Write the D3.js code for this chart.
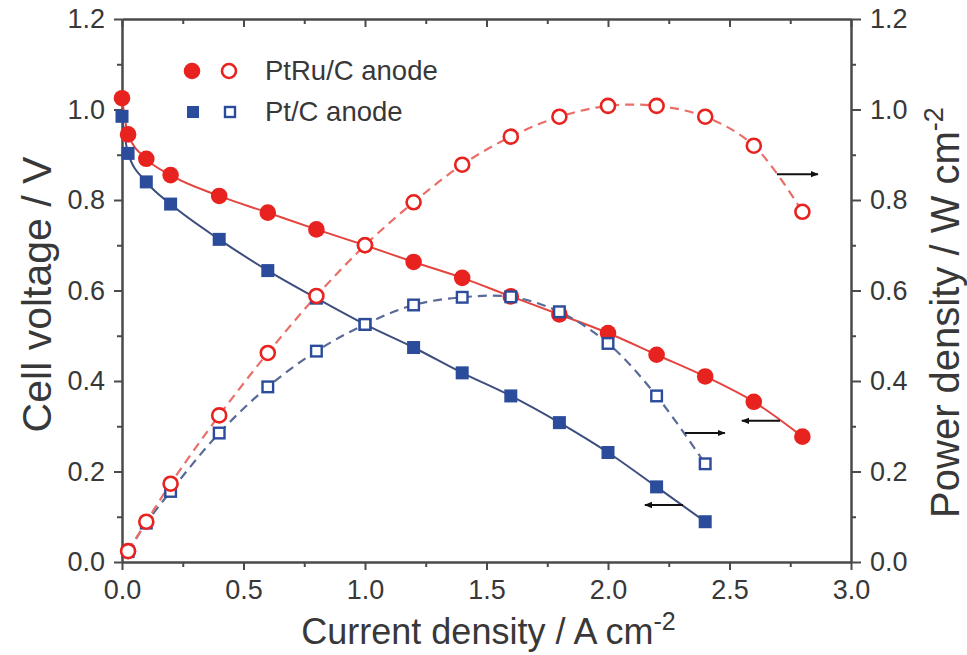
<!DOCTYPE html>
<html>
<head>
<meta charset="utf-8">
<script src="https://cdn.jsdelivr.net/npm/d3@7"></script>
<style>
  html, body { margin: 0; padding: 0; background: #fff; }
  svg { display: block; }
  text { font-family: "Liberation Sans", Arial, Helvetica, sans-serif; fill: #383838; }
</style>
</head>
<body>
<svg id="chart" width="967" height="655"></svg>
<script>
// ---------------- data ----------------
const ptruCurrentV = [0, 0.025, 0.1, 0.2, 0.4, 0.6, 0.8, 1.0, 1.2, 1.4, 1.6, 1.8, 2.0, 2.2, 2.4, 2.6, 2.8];
const ptruVoltage  = [1.025, 0.945, 0.891, 0.855, 0.809, 0.772, 0.735, 0.700, 0.663, 0.628, 0.587, 0.547, 0.506, 0.458, 0.410, 0.354, 0.277];
const ptruCurrentP = [0.025, 0.1, 0.2, 0.4, 0.6, 0.8, 1.0, 1.2, 1.4, 1.6, 1.8, 2.0, 2.2, 2.4, 2.6, 2.8];
const ptruPower    = [0.024, 0.089, 0.173, 0.324, 0.462, 0.588, 0.700, 0.795, 0.878, 0.940, 0.984, 1.008, 1.008, 0.984, 0.920, 0.774];

const ptCurrentV = [0, 0.025, 0.1, 0.2, 0.4, 0.6, 0.8, 1.0, 1.2, 1.4, 1.6, 1.8, 2.0, 2.2, 2.4];
const ptVoltage  = [0.985, 0.903, 0.840, 0.791, 0.713, 0.644, 0.583, 0.525, 0.474, 0.418, 0.367, 0.308, 0.242, 0.166, 0.089];
const ptCurrentP = [0.025, 0.1, 0.2, 0.4, 0.6, 0.8, 1.0, 1.2, 1.4, 1.6, 1.8, 2.0, 2.2, 2.4];
const ptPower    = [0.023, 0.086, 0.156, 0.285, 0.387, 0.466, 0.525, 0.568, 0.585, 0.586, 0.553, 0.483, 0.367, 0.217];

const xTicks = [0, 0.5, 1.0, 1.5, 2.0, 2.5, 3.0];
const xMinorTicks = [0.25, 0.75, 1.25, 1.75, 2.25, 2.75];
const yTicks = [0, 0.2, 0.4, 0.6, 0.8, 1.0, 1.2];
const yMinorTicks = [0.1, 0.3, 0.5, 0.7, 0.9, 1.1];

const legendLabels = ["PtRu/C anode", "Pt/C anode"];
// annotation arrows in data units (arrow points from start to end at the given level)
const arrowStarts = [2.695, 2.317, 2.708, 2.309];
const arrowEnds   = [2.864, 2.481, 2.551, 2.152];
const arrowLevels = [0.857, 0.285, 0.312, 0.126];

// ---------------- layout ----------------
const PL = 122, PR = 851, PT = 19, PB = 562;
const RED = "#e8231f", RED_LINE = "#e4443f", RED_DASH = "#ea6e68";
const BLUE = "#2b4b9b", BLUE_LINE = "#3d4e7e", BLUE_DASH = "#5a6a96";
const AXIS = "#4a4a4a";

const svg = d3.select("#chart");
const x = d3.scaleLinear().domain([0, 3]).range([PL, PR]);
const yL = d3.scaleLinear().domain([0, 1.2]).range([PB, PT]);
const yR = d3.scaleLinear().domain([0, 1.2]).range([PB, PT]);

const fmt = d3.format(".1f");

function styleAxis(g) {
  g.selectAll(".domain").attr("stroke", AXIS).attr("stroke-width", 2.5);
  g.selectAll(".tick line").attr("stroke", AXIS).attr("stroke-width", 2);
  g.selectAll(".tick text").attr("font-size", 27).attr("fill", "#383838")
    .style("font-family", '"Liberation Sans", Arial, sans-serif');
}
function minor(g) {
  g.select(".domain").remove();
  g.selectAll("line").attr("stroke", AXIS).attr("stroke-width", 2);
}

// bottom
styleAxis(svg.append("g").attr("transform", `translate(0,${PB})`)
  .call(d3.axisBottom(x).tickValues(xTicks).tickFormat(fmt).tickSize(8).tickSizeOuter(0).tickPadding(10)));
svg.append("g").attr("transform", `translate(0,${PB})`)
  .call(d3.axisBottom(x).tickValues(xMinorTicks).tickFormat("").tickSize(5).tickSizeOuter(0)).call(minor);

// top (inward ticks, no labels)
styleAxis(svg.append("g").attr("transform", `translate(0,${PT})`)
  .call(d3.axisBottom(x).tickValues(xTicks).tickFormat("").tickSize(8).tickSizeOuter(0)));
svg.append("g").attr("transform", `translate(0,${PT})`)
  .call(d3.axisBottom(x).tickValues(xMinorTicks).tickFormat("").tickSize(5).tickSizeOuter(0)).call(minor);

// left
styleAxis(svg.append("g").attr("transform", `translate(${PL},0)`)
  .call(d3.axisLeft(yL).tickValues(yTicks).tickFormat(fmt).tickSize(8).tickSizeOuter(0).tickPadding(9)));
svg.append("g").attr("transform", `translate(${PL},0)`)
  .call(d3.axisLeft(yL).tickValues(yMinorTicks).tickFormat("").tickSize(5).tickSizeOuter(0)).call(minor);

// right
styleAxis(svg.append("g").attr("transform", `translate(${PR},0)`)
  .call(d3.axisRight(yR).tickValues(yTicks).tickFormat(fmt).tickSize(10).tickSizeOuter(0).tickPadding(9)));
svg.append("g").attr("transform", `translate(${PR},0)`)
  .call(d3.axisRight(yR).tickValues(yMinorTicks).tickFormat("").tickSize(5).tickSizeOuter(0)).call(minor);

// axis titles
const xt = svg.append("text").attr("x", (PL + PR) / 2 + 2).attr("y", 644)
  .attr("text-anchor", "middle").attr("font-size", 36);
xt.append("tspan").text("Current density / A cm");
xt.append("tspan").attr("dy", -14).attr("font-size", 25).text("-2");

svg.append("text").attr("transform", `translate(51,${(PT + PB) / 2 + 4}) rotate(-90)`)
  .attr("text-anchor", "middle").attr("font-size", 41).text("Cell voltage / V");

const rt = svg.append("text").attr("transform", `translate(959,${(PT + PB) / 2 + 22}) rotate(-90)`)
  .attr("text-anchor", "middle").attr("font-size", 40);
rt.append("tspan").text("Power density / W cm");
rt.append("tspan").attr("dy", -16).attr("font-size", 27).text("-2");

// ---------------- lines ----------------
const zip = (a, b) => a.map((v, i) => [v, b[i]]);
const ptruV = zip(ptruCurrentV, ptruVoltage);
const ptV = zip(ptCurrentV, ptVoltage);
const ptruP = zip(ptruCurrentP, ptruPower);
const ptP = zip(ptCurrentP, ptPower);

const lineL = d3.line().x(d => x(d[0])).y(d => yL(d[1])).curve(d3.curveMonotoneX);
const lineR = d3.line().x(d => x(d[0])).y(d => yR(d[1])).curve(d3.curveCatmullRom.alpha(0.5));

svg.append("path").attr("d", lineL(ptV)).attr("fill", "none").attr("stroke", BLUE_LINE).attr("stroke-width", 2);
svg.append("path").attr("d", lineL(ptruV)).attr("fill", "none").attr("stroke", RED_LINE).attr("stroke-width", 2);
svg.append("path").attr("d", lineR(ptP)).attr("fill", "none").attr("stroke", BLUE_DASH).attr("stroke-width", 2.2).attr("stroke-dasharray", "9,6");
svg.append("path").attr("d", lineR(ptruP)).attr("fill", "none").attr("stroke", RED_DASH).attr("stroke-width", 2.2).attr("stroke-dasharray", "9,6");

// ---------------- markers ----------------
const SQ = 13, R = 8.3, RO = 7;
svg.append("g").selectAll("rect").data(ptV).join("rect")
  .attr("x", d => x(d[0]) - SQ / 2).attr("y", d => yL(d[1]) - SQ / 2)
  .attr("width", SQ).attr("height", SQ).attr("fill", BLUE);
svg.append("g").selectAll("circle").data(ptruV).join("circle")
  .attr("cx", d => x(d[0])).attr("cy", d => yL(d[1])).attr("r", R).attr("fill", RED);
svg.append("g").selectAll("rect").data(ptP).join("rect")
  .attr("x", d => x(d[0]) - (SQ - 2.4) / 2).attr("y", d => yR(d[1]) - (SQ - 2.4) / 2)
  .attr("width", SQ - 2.4).attr("height", SQ - 2.4).attr("fill", "#fff").attr("stroke", BLUE).attr("stroke-width", 2.4);
svg.append("g").selectAll("circle").data(ptruP).join("circle")
  .attr("cx", d => x(d[0])).attr("cy", d => yR(d[1])).attr("r", RO).attr("fill", "#fff")
  .attr("stroke", RED).attr("stroke-width", 2.6);

// ---------------- arrows ----------------
svg.append("defs").append("marker").attr("id", "ah").attr("viewBox", "0 0 10 10")
  .attr("refX", 9).attr("refY", 5).attr("markerWidth", 8).attr("markerHeight", 8)
  .attr("markerUnits", "userSpaceOnUse").attr("orient", "auto")
  .append("path").attr("d", "M0,1 L10,5 L0,9 Z").attr("fill", "#111");
arrowStarts.forEach((s, i) => {
  svg.append("line").attr("x1", x(s)).attr("x2", x(arrowEnds[i]))
    .attr("y1", yL(arrowLevels[i])).attr("y2", yL(arrowLevels[i]))
    .attr("stroke", "#111").attr("stroke-width", 2).attr("marker-end", "url(#ah)");
});

// ---------------- legend ----------------
const lg = svg.append("g");
const legY = [71, 112];
lg.append("circle").attr("cx", 192).attr("cy", legY[0]).attr("r", R).attr("fill", RED);
lg.append("circle").attr("cx", 229).attr("cy", legY[0]).attr("r", RO).attr("fill", "#fff").attr("stroke", RED).attr("stroke-width", 2.6);
lg.append("rect").attr("x", 193 - 6).attr("y", legY[1] - 6).attr("width", 12).attr("height", 12).attr("fill", BLUE);
lg.append("rect").attr("x", 230 - 5).attr("y", legY[1] - 5).attr("width", 10).attr("height", 10).attr("fill", "#fff").attr("stroke", BLUE).attr("stroke-width", 2.4);
legendLabels.forEach((t, i) => {
  lg.append("text").attr("x", 265).attr("y", legY[i] + 9).attr("font-size", 27.5).text(t);
});
</script>
</body>
</html>
